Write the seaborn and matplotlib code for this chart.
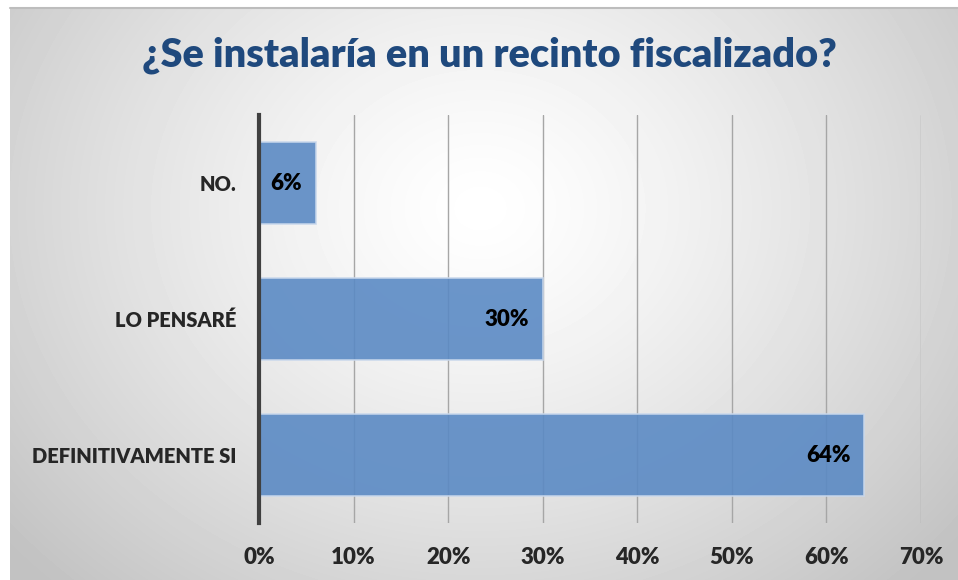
import numpy as np
import seaborn as sns
import matplotlib.pyplot as plt

# Data
categories = ["NO.", "LO PENSARÉ", "DEFINITIVAMENTE SI"]
values = [6, 30, 64]
x_ticks = [0, 10, 20, 30, 40, 50, 60, 70]
title = "¿Se instalaría en un recinto fiscalizado?"

sns.set_style("white")
plt.rcParams['font.family'] = ['Lato', 'DejaVu Sans']

W, H = 958, 580
fig = plt.figure(figsize=(W / 100, H / 100), dpi=100)
fig.patch.set_facecolor("white")

# radial gray gradient behind the chart
bg = fig.add_axes([10 / W, 0, (W - 10) / W, (H - 8) / H])
yy, xx = np.mgrid[0:572, 0:948]
r = np.sqrt(((xx - 470) / 620.0) ** 2 + ((yy - 200) / 520.0) ** 2)
shade = 1.0 - 0.24 * np.clip(r, 0, 1) ** 1.3
bg.imshow(shade, cmap="gray", vmin=0, vmax=1, aspect="auto", interpolation="bilinear")
bg.set_axis_off()
fig.add_artist(plt.Line2D([10 / W, 1], [1 - 8 / H, 1 - 8 / H], color="#bdbdbd", lw=1.5))

ax = fig.add_axes([259 / W, 1 - 523 / H, (921 - 259) / W, (523 - 115) / H])
ax.patch.set_alpha(0)

sns.barplot(x=values, y=categories, orient="h", color="#5b8ac4", saturation=1,
            width=0.6, alpha=0.9, edgecolor="#c9d8ec", linewidth=1.2, ax=ax)

ax.set_xlim(0, 70)
ax.set_xticks(x_ticks)
ax.set_xticklabels([f"{t}%" for t in x_ticks], fontsize=16, fontweight="heavy")
ax.set_yticklabels(categories, fontsize=14.5, fontweight="heavy")
ax.tick_params(axis="x", length=0, pad=17)
ax.tick_params(axis="y", length=0, pad=16)
ax.set_xlabel("")
ax.set_ylabel("")

ax.xaxis.grid(True, color="#a6a6a6", linewidth=1)
ax.set_axisbelow(True)
for s in ["top", "right", "bottom"]:
    ax.spines[s].set_visible(False)
ax.spines["left"].set_color("#404040")
ax.spines["left"].set_linewidth(3)
ax.spines["left"].set_zorder(5)

labels = ax.bar_label(ax.containers[0], labels=[f"{v}%" for v in values],
                      padding=-10, fontsize=16, fontweight="heavy", color="black")
for t in labels:
    t.set_ha("right")

fig.text(489 / W, 1 - 55 / H, title, ha="center", va="center",
         fontsize=28.5, fontweight="heavy", color="#1f497d")

fig.savefig("out.png", dpi=100)
